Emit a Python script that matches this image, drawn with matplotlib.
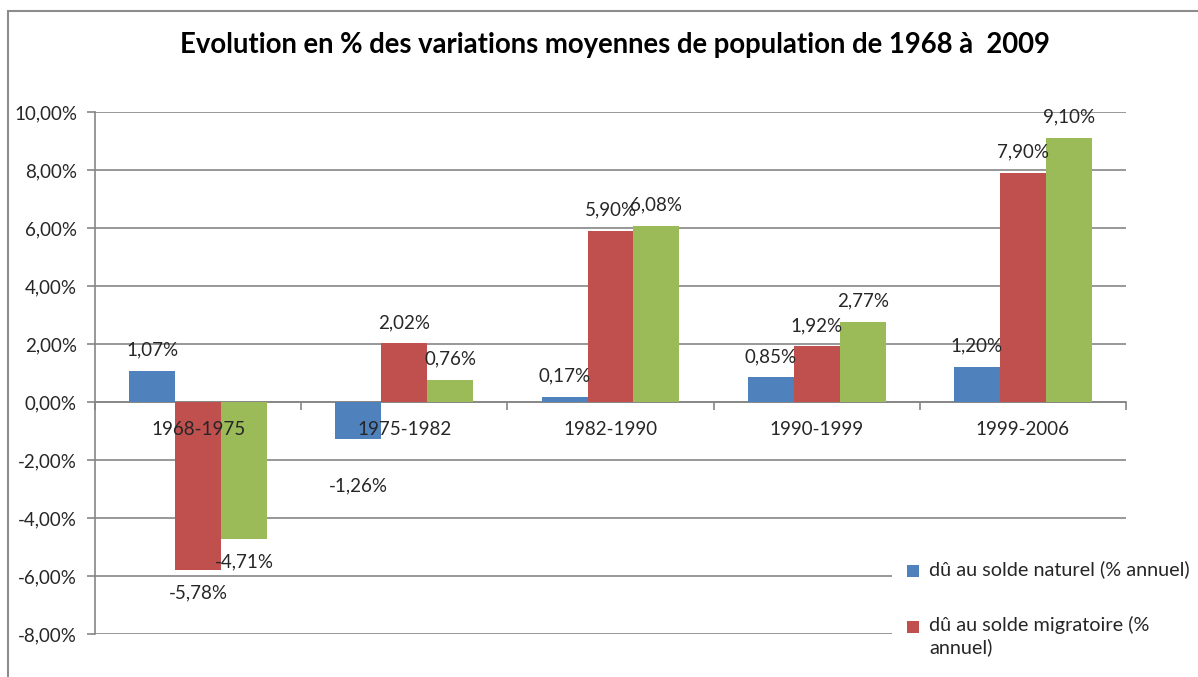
import matplotlib.pyplot as plt
from matplotlib.patches import Rectangle
import numpy as np

plt.rcParams['font.family'] = ['Lato', 'DejaVu Sans']

periods = ['1968-1975', '1975-1982', '1982-1990', '1990-1999', '1999-2006']
naturel = [1.07, -1.26, 0.17, 0.85, 1.20]
migratoire = [-5.78, 2.02, 5.90, 1.92, 7.90]
total = [-4.71, 0.76, 6.08, 2.77, 9.10]
yticks = [-8, -6, -4, -2, 0, 2, 4, 6, 8, 10]

c_blue = '#4F81BD'
c_red = '#C0504D'
c_green = '#9BBB59'
c_grid = '#868686'
c_text = '#262626'
fs = 13.5

W, H = 1198, 677
fig = plt.figure(figsize=(W / 100, H / 100), dpi=100)
ax = fig.add_axes([95 / W, 1 - 634 / H, (1126 - 95) / W, (634 - 112) / H])

x = np.arange(len(periods))
w = 0.223
series = [(naturel, c_blue, -w), (migratoire, c_red, 0), (total, c_green, w)]
for vals, col, off in series:
    bars = ax.bar(x + off, vals, w, color=col, zorder=3)
    for b, v in zip(bars, vals):
        if v >= 0:
            dy = 15
        elif v > -2:
            dy = -34  # pushed below the category label
        else:
            dy = -17
        ax.annotate(f'{v:.2f}%'.replace('.', ','),
                    (b.get_x() + b.get_width() / 2, v),
                    xytext=(0, dy), textcoords='offset points',
                    ha='center', va='center', fontsize=fs, color=c_text, zorder=5)

ax.set_xlim(-0.5, len(periods) - 0.5)
ax.set_ylim(-8, 10)
ax.set_yticks(yticks)
ax.set_yticklabels([f'{t:.2f}%'.replace('.', ',') for t in yticks], fontsize=fs, color=c_text)
ax.yaxis.grid(True, color=c_grid, linewidth=1.2, zorder=0)
ax.tick_params(axis='y', length=6, color=c_grid, width=1.2, pad=7)

# category axis sits on the zero line
ax.spines['bottom'].set_position(('data', 0))
ax.spines['bottom'].set_color(c_grid)
ax.spines['bottom'].set_linewidth(1.2)
ax.set_xticks(np.arange(len(periods) + 1) - 0.5)
ax.set_xticklabels([])
ax.tick_params(axis='x', length=6, direction='out', color=c_grid, width=1.2)
for i, p in enumerate(periods):
    ax.annotate(p, (i, 0), xytext=(0, -20), textcoords='offset points',
                ha='center', va='center', fontsize=fs, color=c_text, zorder=5)

ax.spines['left'].set_color(c_grid)
ax.spines['left'].set_linewidth(1.2)
ax.spines['top'].set_visible(False)
ax.spines['right'].set_visible(False)

fig.text(615 / W, 1 - 45 / H,
         'Evolution en % des variations moyennes de population de 1968 à  2009',
         ha='center', va='center', fontsize=19.8, fontweight='bold', color='black')

# chart frame (cut off at right and bottom)
fig.add_artist(Rectangle((8 / W, -0.1), 1.2, 1 - 11 / H + 0.1, transform=fig.transFigure,
                         fill=False, edgecolor='#8c8c8c', linewidth=1.5))

# legend box (partly outside the picture)
fig.add_artist(Rectangle((892 / W, 0), 1 - 892 / W, 1 - 552 / H, transform=fig.transFigure,
                         facecolor='white', edgecolor='none', zorder=2))
legend_items = [(c_blue, 571, 'dû au solde naturel (% annuel)'),
                (c_red, 627, 'dû au solde migratoire (%\nannuel)')]
for col, yp, lab in legend_items:
    fig.add_artist(Rectangle((907 / W, 1 - (yp + 6) / H), 12 / W, 12 / H,
                             transform=fig.transFigure, facecolor=col, edgecolor='none', zorder=3))
    fig.text(929 / W, 1 - (yp - 11) / H, lab, ha='left', va='top', fontsize=14.3,
             color=c_text, linespacing=1.3, zorder=4)

fig.savefig('out.png', dpi=100)
